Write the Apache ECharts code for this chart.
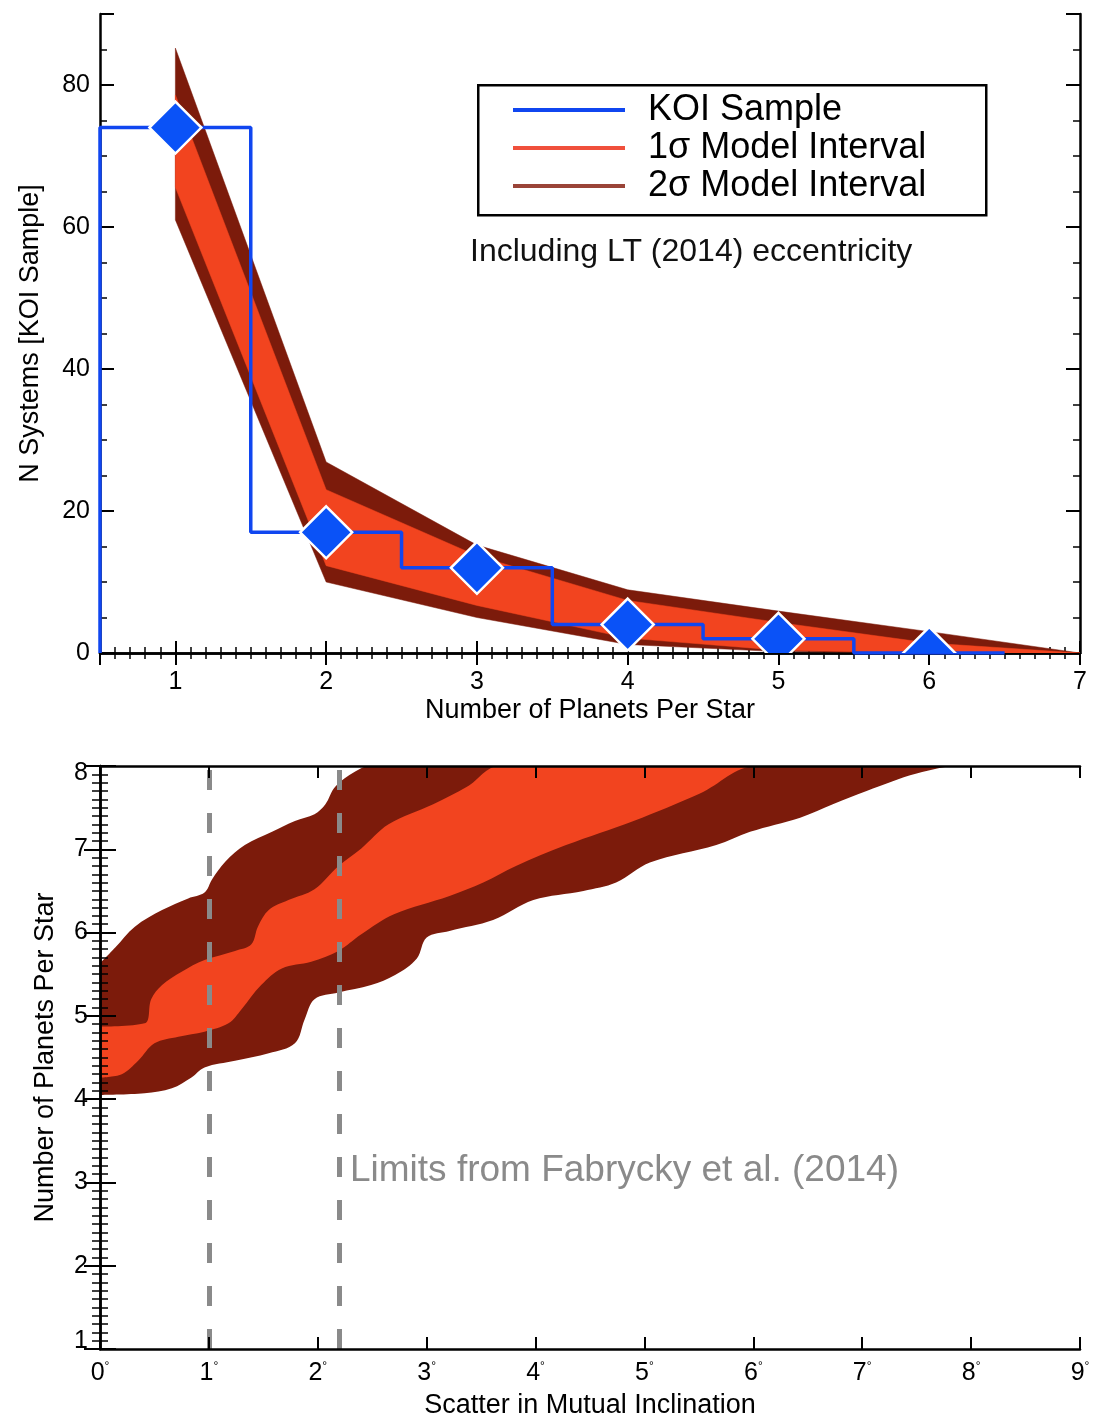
<!DOCTYPE html>
<html><head><meta charset="utf-8">
<script src="https://cdn.jsdelivr.net/npm/echarts@6/dist/echarts.min.js"></script>
<style>html,body{margin:0;padding:0;background:#fff}#c{width:1105px;height:1421px}</style>
</head><body><div id="c"></div>
<script>
// ---------- Top panel data ----------
const planetBins = [1, 2, 3, 4, 5, 6];
const koiCounts = [74, 17, 12, 4, 2, 0];
const modelX = [1, 2, 3, 4, 5, 6, 7];
const sig2Upper = [85.2, 26.9, 15.2, 8.9, 5.9, 3.0, 0];
const sig1Upper = [78.6, 23.0, 13.7, 7.4, 4.3, 1.4, 0];
const sig1Lower = [65.6, 12.3, 6.7, 2.1, 0.4, 0, 0];
const sig2Lower = [61.0, 10.0, 5.0, 1.2, 0.2, 0, 0];

// ---------- Bottom panel data (scatter in mutual inclination [deg] vs planets per star) ----------
const sig2UpperIncX = [0, 0.14, 0.32, 0.57, 0.81, 0.96, 1.03, 1.15, 1.33, 1.58, 1.79, 1.97, 2.07, 2.16, 2.34, 2.48];
const sig2UpperInc  = [5.63, 5.82, 6.07, 6.27, 6.41, 6.48, 6.64, 6.85, 7.05, 7.21, 7.34, 7.42, 7.54, 7.75, 7.93, 8.0];
const sig1UpperIncX = [0, 0.41, 0.47, 0.57, 0.75, 0.96, 1.24, 1.39, 1.45, 1.55, 1.73, 1.97, 2.19, 2.40, 2.65, 3.06, 3.37, 3.67];
const sig1UpperInc  = [4.87, 4.91, 5.20, 5.37, 5.53, 5.67, 5.78, 5.86, 6.07, 6.27, 6.39, 6.52, 6.80, 7.01, 7.30, 7.54, 7.75, 8.0];
const sig1LowerIncX = [0, 0.2, 0.35, 0.5, 0.72, 0.96, 1.18, 1.30, 1.48, 1.67, 1.94, 2.19, 2.40, 2.70, 3.21, 3.52, 3.82, 4.28, 4.9, 5.51, 6.03];
const sig1LowerInc  = [4.26, 4.30, 4.46, 4.67, 4.75, 4.81, 4.91, 5.08, 5.37, 5.57, 5.65, 5.78, 5.98, 6.22, 6.44, 6.6, 6.8, 7.05, 7.34, 7.67, 8.0];
const sig2LowerIncX = [0, 0.41, 0.66, 0.84, 0.96, 1.24, 1.55, 1.79, 1.88, 1.97, 2.19, 2.49, 2.71, 2.91, 3.0, 3.21, 3.61, 3.98, 4.44, 4.74, 5.05, 5.66, 5.97, 6.43, 6.73, 7.04, 7.5, 7.9];
const sig2LowerInc  = [4.05, 4.07, 4.13, 4.26, 4.38, 4.46, 4.55, 4.67, 4.96, 5.2, 5.28, 5.37, 5.49, 5.69, 5.94, 6.02, 6.15, 6.39, 6.5, 6.6, 6.84, 7.05, 7.21, 7.38, 7.54, 7.7, 7.91, 8.0];
const fabryckyLimits = [1.0, 2.2];
const incXMax = 9, incYMin = 1, incYMax = 8;

const FONT = 'Liberation Sans, Arial, Helvetica, sans-serif';
const DARK = '#7c1b0b', ORANGE = '#f2441f', BLUE = '#1046f0';

// step histogram path built from bin centres
const koiStep = [[planetBins[0] - 0.5, 0]];
planetBins.forEach((b, i) => { koiStep.push([b - 0.5, koiCounts[i]]); koiStep.push([b + 0.5, koiCounts[i]]); });

function bandSeries(name, xs1, ys1, xs2, ys2, color, xi, yi) {
  return {
    type: 'custom', name: name, xAxisIndex: xi, yAxisIndex: yi, clip: true, z: 2,
    itemStyle: { color: color },
    data: [[xs1[0], ys1[0]]],
    renderItem: function (params, api) {
      const pts = [];
      for (let i = 0; i < xs1.length; i++) pts.push(api.coord([xs1[i], ys1[i]]));
      for (let i = xs2.length - 1; i >= 0; i--) pts.push(api.coord([xs2[i], ys2[i]]));
      return { type: 'polygon', shape: { points: pts }, style: { fill: color, stroke: color, lineWidth: 0.5 } };
    }
  };
}
// smooth edge of a band, filled down to the bottom of the axis; layered to form the bands
function edgeArea(name, xs, ys, color, z) {
  const d = xs.map((x, i) => [x, ys[i]]);
  d.push([incXMax, incYMax]);
  return { type: 'line', name: name, xAxisIndex: 2, yAxisIndex: 2, data: d, z: z, clip: true,
    symbol: 'none', smooth: 0.35, silent: true,
    lineStyle: { width: 0, opacity: 0 },
    areaStyle: { color: color, opacity: 1, origin: 'start' } };
}

const axisLineStyle = { lineStyle: { color: '#000', width: 2.5 } };
const tickStyle = (len) => ({ show: true, inside: true, length: len, lineStyle: { color: '#000', width: 2 } });
const minorStyle = (n, len) => ({ show: true, splitNumber: n, length: len, lineStyle: { color: '#000', width: 1.5 } });

const chart = echarts.init(document.getElementById('c'), null, { renderer: 'canvas' });
chart.setOption({
  animation: false,
  backgroundColor: '#fff',
  textStyle: { fontFamily: FONT },
  grid: [
    { left: 100, top: 14, width: 980, height: 639, containLabel: false },
    { left: 100, top: 766, width: 980, height: 583, containLabel: false }
  ],
  xAxis: [
    { type: 'value', gridIndex: 0, position: 'bottom', min: 0.5, max: 7, splitNumber: 6,
      axisLine: axisLineStyle, axisTick: tickStyle(12), minorTick: minorStyle(10, 6),
      splitLine: { show: false }, minorSplitLine: { show: false },
      axisLabel: { fontSize: 25, color: '#000', margin: 17, fontFamily: FONT,
        formatter: v => (Math.abs(v - Math.round(v)) < 1e-9 ? String(Math.round(v)) : '') },
      name: 'Number of Planets Per Star', nameLocation: 'middle', nameGap: 44,
      nameTextStyle: { fontSize: 27, color: '#000', fontFamily: FONT } },
    { type: 'value', gridIndex: 0, position: 'top', min: 0.5, max: 7, splitNumber: 6,
      axisLine: axisLineStyle, axisTick: tickStyle(12), minorTick: minorStyle(10, 6),
      splitLine: { show: false }, axisLabel: { show: false } },
    { type: 'value', gridIndex: 1, position: 'bottom', min: 0, max: incXMax, interval: 1, z: 10,
      axisLine: axisLineStyle, axisTick: tickStyle(12),
      splitLine: { show: false },
      axisLabel: { margin: 12, formatter: v => '{n|' + v + '}{d|°}',
        rich: { n: { fontSize: 25, color: '#000', fontFamily: FONT }, d: { fontSize: 12, color: '#000', verticalAlign: 'top', fontFamily: FONT } } },
      name: 'Scatter in Mutual Inclination', nameLocation: 'middle', nameGap: 43,
      nameTextStyle: { fontSize: 27, color: '#000', fontFamily: FONT } },
    { type: 'value', gridIndex: 1, position: 'top', min: 0, max: incXMax, interval: 1, z: 10,
      axisLine: axisLineStyle, axisTick: tickStyle(12),
      splitLine: { show: false }, axisLabel: { show: false } }
  ],
  yAxis: [
    { type: 'value', gridIndex: 0, position: 'left', min: 0, max: 90, interval: 20,
      axisLine: axisLineStyle, axisTick: tickStyle(14), minorTick: minorStyle(4, 7),
      splitLine: { show: false }, minorSplitLine: { show: false },
      axisLabel: { fontSize: 25, color: '#000', margin: 10, fontFamily: FONT,
        formatter: v => (v % 20 === 0 ? String(v) : '') },
      name: 'N Systems [KOI Sample]', nameLocation: 'middle', nameGap: 56, nameRotate: 90,
      nameTextStyle: { fontSize: 27, color: '#000', fontFamily: FONT } },
    { type: 'value', gridIndex: 0, position: 'right', min: 0, max: 90, interval: 20,
      axisLine: axisLineStyle, axisTick: tickStyle(14), minorTick: minorStyle(4, 7),
      splitLine: { show: false }, axisLabel: { show: false } },
    { type: 'value', gridIndex: 1, position: 'left', min: incYMin, max: incYMax, interval: 1, z: 10,
      axisLine: axisLineStyle, axisTick: tickStyle(16), minorTick: minorStyle(10, 8),
      splitLine: { show: false }, minorSplitLine: { show: false },
      axisLabel: { color: '#000', margin: 12, fontFamily: FONT,
        formatter: v => (v === incYMax ? '{hi|' + v + '}' : v === incYMin ? '{lo|' + v + '}' : '{m|' + v + '}'),
        rich: { m: { fontSize: 25, fontFamily: FONT, color: '#000' },
                hi: { fontSize: 25, fontFamily: FONT, color: '#000', padding: [14, 0, 0, 0] },
                lo: { fontSize: 25, fontFamily: FONT, color: '#000', padding: [0, 0, 16, 0] } } },
      name: 'Number of Planets Per Star', nameLocation: 'middle', nameGap: 41, nameRotate: 90,
      nameTextStyle: { fontSize: 27, color: '#000', fontFamily: FONT } },
    { type: 'value', gridIndex: 1, position: 'right', min: incYMin, max: incYMax, interval: 1, z: 10,
      axisLine: axisLineStyle, axisTick: tickStyle(16), minorTick: minorStyle(10, 8),
      splitLine: { show: false }, axisLabel: { show: false } }
  ],
  legend: {
    left: 513, top: 91, orient: 'vertical', padding: 0, itemGap: 0,
    itemWidth: 112, itemHeight: 4, selectedMode: false,
    textStyle: { fontSize: 36, color: '#000', lineHeight: 38, fontFamily: FONT, padding: [0, 0, 0, 18] },
    data: [
      { name: 'KOI Sample', icon: 'rect', itemStyle: { color: BLUE } },
      { name: '1σ Model Interval', icon: 'rect', itemStyle: { color: '#f0503c' } },
      { name: '2σ Model Interval', icon: 'rect', itemStyle: { color: '#9a4438' } }
    ]
  },
  graphic: [
    { type: 'rect', left: 477, top: 84, z: 1, shape: { width: 508, height: 130 },
      style: { fill: '#fff', stroke: '#000', lineWidth: 2.5 } },
    { type: 'text', left: 470, top: 236, z: 10,
      style: { text: 'Including LT (2014) eccentricity', fontSize: 32, fill: '#111', font: '32px ' + FONT } },
    { type: 'text', left: 350, top: 1152, z: 10,
      style: { text: 'Limits from Fabrycky et al. (2014)', fontSize: 37, fill: '#8a8a8a', font: '37px ' + FONT } }
  ],
  series: [
    bandSeries('2σ Model Interval', modelX, sig2Upper, modelX, sig2Lower, DARK, 0, 0),
    bandSeries('1σ Model Interval', modelX, sig1Upper, modelX, sig1Lower, ORANGE, 0, 0),
    { type: 'line', name: 'KOI Sample', xAxisIndex: 0, yAxisIndex: 0, data: koiStep,
      symbol: 'none', z: 3, clip: true, color: BLUE,
      lineStyle: { color: BLUE, width: 3.5 } },
    { type: 'custom', name: 'KOI Points', xAxisIndex: 0, yAxisIndex: 0, clip: true, z: 4,
      data: planetBins.map((b, i) => [b, koiCounts[i]]),
      renderItem: function (params, api) {
        const p = api.coord([api.value(0), api.value(1)]);
        const r = 26;
        return { type: 'polygon', shape: { points: [[p[0], p[1] - r], [p[0] + r, p[1]], [p[0], p[1] + r], [p[0] - r, p[1]]] },
          style: { fill: '#0a52f7', stroke: '#fff', lineWidth: 2.5 } };
      } },
    edgeArea('2σ upper (inclination)', sig2UpperIncX, sig2UpperInc, DARK, 2),
    edgeArea('1σ upper (inclination)', sig1UpperIncX, sig1UpperInc, ORANGE, 2),
    edgeArea('1σ lower (inclination)', sig1LowerIncX, sig1LowerInc, DARK, 2),
    edgeArea('2σ lower (inclination)', sig2LowerIncX, sig2LowerInc, '#ffffff', 2),
    { type: 'line', name: 'Fabrycky limits', xAxisIndex: 2, yAxisIndex: 2, data: [], z: 5,
      markLine: { silent: true, symbol: ['none', 'none'], label: { show: false },
        lineStyle: { color: '#8a8a8a', width: 5, type: [20, 23] },
        data: fabryckyLimits.map(v => ({ xAxis: v })) } }
  ]
});
</script>
</body></html>
